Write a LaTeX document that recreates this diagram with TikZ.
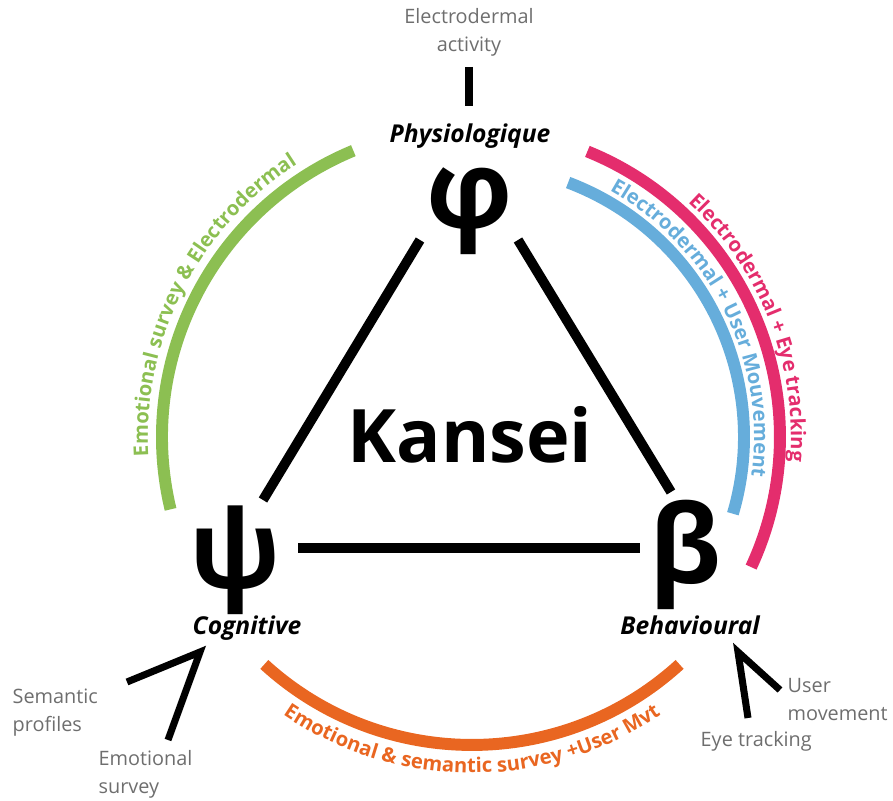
\documentclass[tikz,border=0pt]{standalone}
\usepackage{fontspec}
\setmainfont{Open Sans}
\usetikzlibrary{decorations.text}

\definecolor{grn}{HTML}{8CBF52}
\definecolor{pnk}{HTML}{E42D6D}
\definecolor{blu}{HTML}{66ADDB}
\definecolor{org}{HTML}{E96621}
\definecolor{txtgray}{HTML}{6E6E6E}

\begin{document}
\begin{tikzpicture}[x=0.02cm, y=0.02cm, thick]
    \tikzstyle{edge} = [draw, line width=5.6pt]
    \tikzstyle{tick} = [draw, line width=4pt]
    \tikzstyle{band} = [draw, line width=6.8pt]
    \tikzstyle{greek} = [font=\bfseries\fontsize{62}{62}\selectfont, inner sep=0pt]
    \tikzstyle{pole} = [font=\bfseries\itshape\fontsize{14}{17}\selectfont, inner sep=0pt, anchor=base]
    \tikzstyle{measure} = [font=\fontsize{11.3}{16}\selectfont, text=txtgray, align=left, inner sep=0pt]
    \tikzstyle{bandtext} = [decorate, decoration={text along path, text align=center}]

    \useasboundingbox (0,0) rectangle (893,801);
    \coordinate (c) at (472,364);

    % centre word
    \node [font=\bfseries\fontsize{42}{42}\selectfont, inner sep=0pt] (kansei) at (470,366) {Kansei};

    % the three poles
    \node [greek] (phi) at (470,590) {φ};
    \node [greek] (psi) at (235,241) {ψ};
    \node [greek] (beta) at (685,246) {β};
    \node [pole] (physio) at (470,658) {Physiologique};
    \node [pole] (cogn) at (247,166) {Cognitive};
    \node [pole] (behav) at (690,166) {Behavioural};

    % triangle
    \coordinate (phiL) at (420,561);
    \coordinate (phiR) at (518,561);
    \coordinate (psiT) at (263,301);
    \coordinate (psiR) at (298,253);
    \coordinate (betaT) at (671,309);
    \coordinate (betaL) at (640,253);
    \draw [edge] (phiL) -- (psiT);
    \draw [edge] (phiR) -- (betaT);
    \draw [edge] (psiR) -- (betaL);

    % measures
    \node [measure, align=center, anchor=north] (eda) at (469,793) {Electrodermal\\activity};
    \node [measure, anchor=north west] (sem) at (12,113) {Semantic\\profiles};
    \node [measure, anchor=north west] (emo) at (98,51) {Emotional\\survey};
    \node [measure, anchor=north west] (umv) at (787,123) {User\\movement};
    \node [measure, anchor=north west] (eye) at (700,70) {Eye tracking};

    \coordinate (edaT) at (469,734);
    \coordinate (edaB) at (469,695);
    \draw [tick] (edaT) -- (edaB);
    \coordinate (cogA) at (200,149);
    \coordinate (semE) at (127,119);
    \coordinate (emoE) at (168,61);
    \draw [tick] (semE) -- (cogA) -- (emoE);
    \coordinate (behA) at (738,149);
    \coordinate (umvE) at (780,111);
    \coordinate (eyeE) at (748,83);
    \draw [tick] (eyeE) -- (behA) -- (umvE);

    % coloured bands
    \draw [band, grn] ([shift={(193.5:310)}]c) arc [start angle=193.5, end angle=112.5, radius=6.2cm];
    \draw [band, pnk] ([shift={(68:308)}]c) arc [start angle=68, end angle=-25, radius=6.16cm];
    \draw [band, blu] ([shift={(69.3:272)}]c) arc [start angle=69.3, end angle=-16.4, radius=5.44cm];
    \draw [band, org] ([shift={(227.6:308)}]c) arc [start angle=227.6, end angle=312.4, radius=6.16cm];

    \path [bandtext, decoration={text={|\color{grn}\bfseries\fontsize{11.5}{14}\selectfont|Emotional survey {\&} Electrodermal}}]
        ([shift={(193.5:324)}]c) arc [start angle=193.5, end angle=112.5, radius=6.48cm];
    \path [bandtext, decoration={text={|\color{pnk}\bfseries\fontsize{11.5}{14}\selectfont|Electrodermal + Eye tracking}}]
        ([shift={(68:319)}]c) arc [start angle=68, end angle=-25, radius=6.38cm];
    \path [bandtext, decoration={text={|\color{blu}\bfseries\fontsize{11.5}{14}\selectfont|Electrodermal + User Mouvement}}]
        ([shift={(69.3:282)}]c) arc [start angle=69.3, end angle=-16.4, radius=5.64cm];
    \path [bandtext, decoration={text={|\color{org}\bfseries\fontsize{11.5}{14}\selectfont|Emotional {\&} semantic survey +User Mvt}}]
        ([shift={(227.6:336)}]c) arc [start angle=227.6, end angle=312.4, radius=6.72cm];
\end{tikzpicture}
\end{document}
